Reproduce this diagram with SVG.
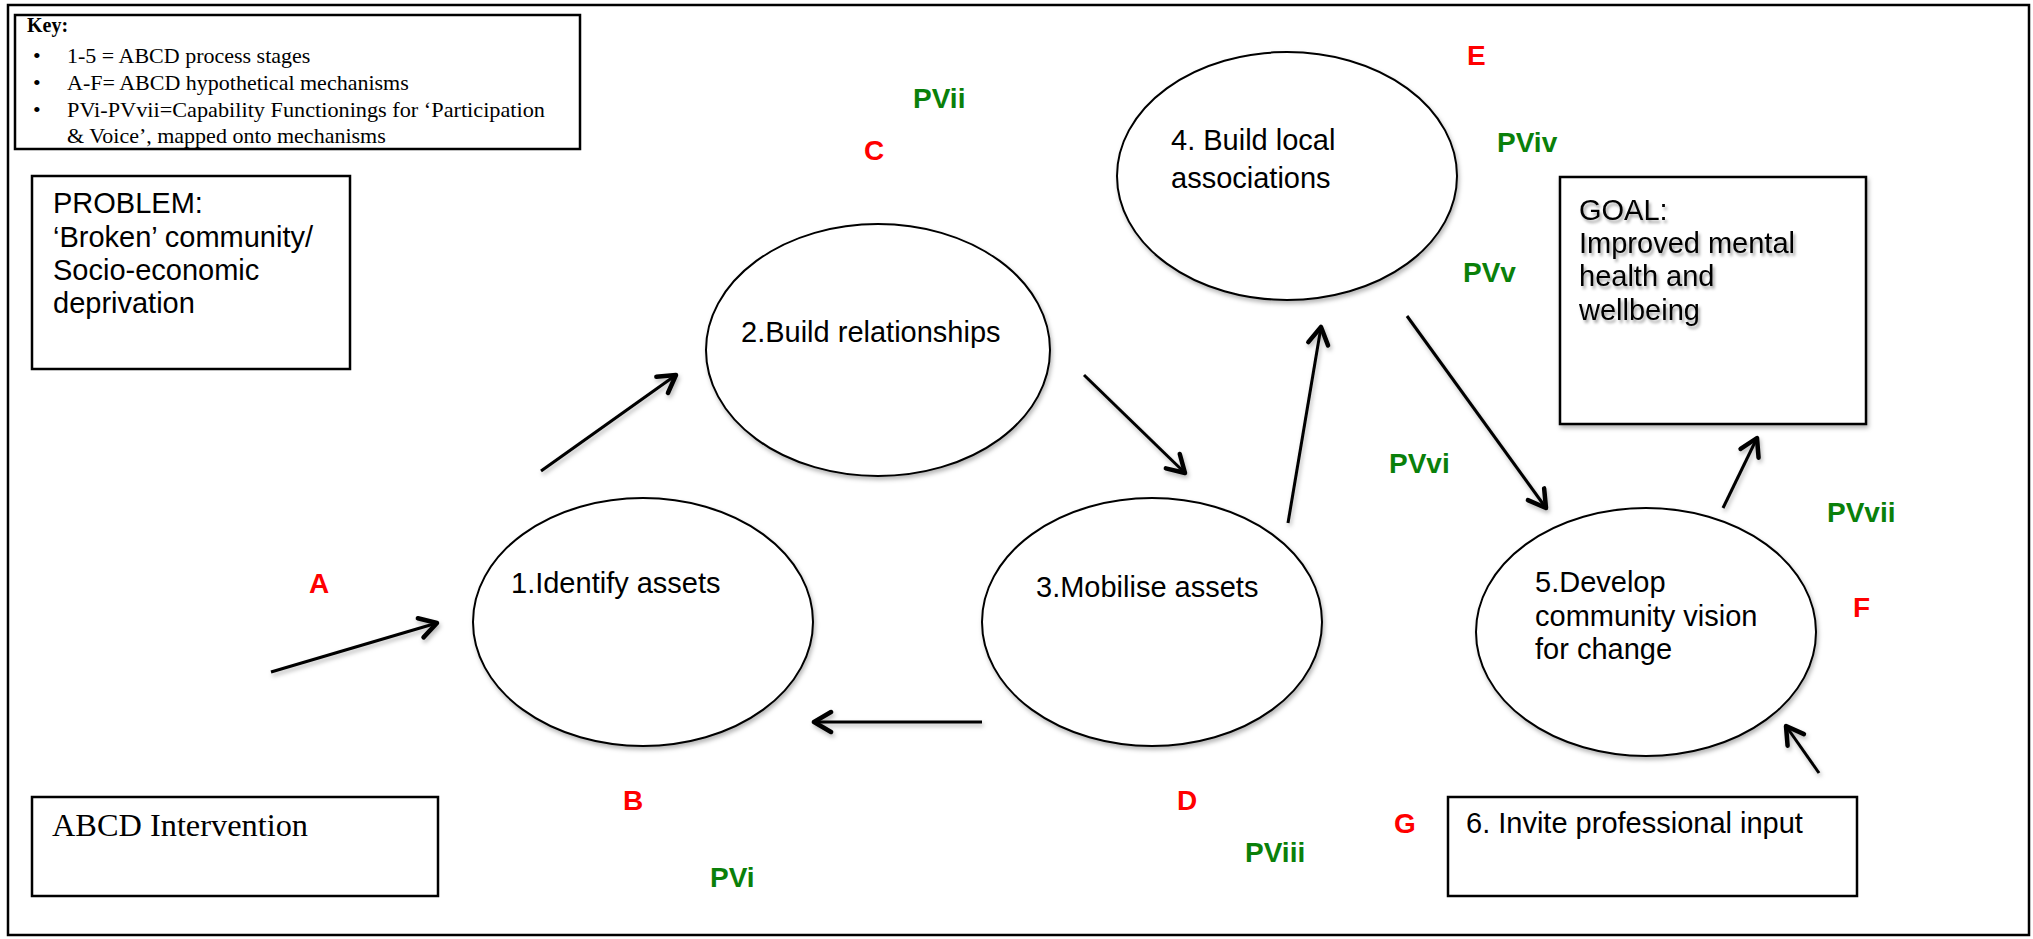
<svg xmlns="http://www.w3.org/2000/svg" width="2033" height="939" viewBox="0 0 2033 939">
<style>
.sans{font-family:"Liberation Sans",Arial,sans-serif;font-size:29px;fill:#000}
.serif{font-family:"Liberation Serif","Times New Roman",serif;fill:#000}
.red{font-family:"Liberation Sans",Arial,sans-serif;font-size:28px;font-weight:bold;fill:#ff0000}
.green{font-family:"Liberation Sans",Arial,sans-serif;font-size:28px;font-weight:bold;fill:#0a800a}
.box{fill:#fff;stroke:#000;stroke-width:2.5}
.ell{fill:#fff;stroke:#000;stroke-width:2}
.conn{stroke:#000;stroke-width:3;fill:none;marker-end:url(#ah)}
</style>
<defs>
<filter id="sh" x="-10%" y="-10%" width="130%" height="130%">
<feDropShadow dx="1.5" dy="3" stdDeviation="2" flood-color="#000" flood-opacity="0.28"/>
</filter>
<filter id="tsh" x="-10%" y="-20%" width="130%" height="150%">
<feDropShadow dx="2" dy="3" stdDeviation="1.5" flood-color="#000" flood-opacity="0.35"/>
</filter>
<marker id="ah" viewBox="-21 -13 26 26" refX="0" refY="0" markerWidth="26" markerHeight="26" markerUnits="userSpaceOnUse" orient="auto">
<path d="M-17,-10 L0,0 L-17,10" fill="none" stroke="#000" stroke-width="4.5" stroke-linecap="round" stroke-linejoin="round"/>
</marker>
</defs>
<rect x="0" y="0" width="2033" height="939" fill="#fff"/>
<rect id="frame" x="8" y="5" width="2021" height="930" fill="none" stroke="#000" stroke-width="2.5"/>

<g id="key">
<rect class="box" x="15" y="15" width="565" height="134" stroke-width="1.5"/>
<text class="serif" x="27" y="32" font-size="20" font-weight="bold">Key:</text>
<g class="serif" font-size="22">
<text x="33" y="63">•</text><text x="67" y="63">1-5 = ABCD process stages</text>
<text x="33" y="90">•</text><text x="67" y="90">A-F= ABCD hypothetical mechanisms</text>
<text x="33" y="117">•</text><text x="67" y="117" textLength="478" lengthAdjust="spacingAndGlyphs">PVi-PVvii=Capability Functionings for ‘Participation</text>
<text x="67" y="143">&amp; Voice’, mapped onto mechanisms</text>
</g>
</g>

<g id="problem">
<rect class="box" x="32" y="176" width="318" height="193"/>
<text class="sans" x="53" y="213">PROBLEM:</text>
<text class="sans" x="53" y="247">‘Broken’ community/</text>
<text class="sans" x="53" y="280">Socio-economic</text>
<text class="sans" x="53" y="313">deprivation</text>
</g>

<g id="intervention">
<rect class="box" x="32" y="797" width="406" height="99"/>
<text class="serif" x="52" y="836" font-size="31" textLength="256" lengthAdjust="spacingAndGlyphs">ABCD Intervention</text>
</g>

<g id="goal">
<rect class="box" x="1560" y="177" width="306" height="247" filter="url(#sh)"/>
<g filter="url(#tsh)">
<text class="sans" x="1579" y="220">GOAL:</text>
<text class="sans" x="1579" y="253">Improved mental</text>
<text class="sans" x="1579" y="286">health and</text>
<text class="sans" x="1579" y="320">wellbeing</text>
</g>
</g>

<g id="professional">
<rect class="box" x="1448" y="797" width="409" height="99"/>
<text class="sans" x="1466" y="833">6. Invite professional input</text>
</g>

<g id="stage1">
<ellipse class="ell" cx="643" cy="622" rx="170" ry="124" filter="url(#sh)"/>
<text class="sans" x="511" y="593">1.Identify assets</text>
</g>
<g id="stage2">
<ellipse class="ell" cx="878" cy="350" rx="172" ry="126" filter="url(#sh)"/>
<text class="sans" x="741" y="342">2.Build relationships</text>
</g>
<g id="stage3">
<ellipse class="ell" cx="1152" cy="622" rx="170" ry="124" filter="url(#sh)"/>
<text class="sans" x="1036" y="597">3.Mobilise assets</text>
</g>
<g id="stage4">
<ellipse class="ell" cx="1287" cy="176" rx="170" ry="124" filter="url(#sh)"/>
<text class="sans" x="1171" y="150">4. Build local</text>
<text class="sans" x="1171" y="188">associations</text>
</g>
<g id="stage5">
<ellipse class="ell" cx="1646" cy="632" rx="170" ry="124" filter="url(#sh)"/>
<text class="sans" x="1535" y="592">5.Develop</text>
<text class="sans" x="1535" y="626">community vision</text>
<text class="sans" x="1535" y="659">for change</text>
</g>

<g id="connectors" filter="url(#sh)">
<line class="conn" x1="271" y1="672" x2="437" y2="623"/>
<line class="conn" x1="541" y1="471" x2="676" y2="375"/>
<line class="conn" x1="1084" y1="375" x2="1185" y2="473"/>
<line class="conn" x1="982" y1="722" x2="814" y2="722" stroke-width="4"/>
<line class="conn" x1="1288" y1="523" x2="1321" y2="327"/>
<line class="conn" x1="1407" y1="316" x2="1546" y2="508"/>
<line class="conn" x1="1723" y1="508" x2="1757" y2="438"/>
<line class="conn" x1="1819" y1="773" x2="1786" y2="726"/>
</g>

<g id="mechanisms">
<text class="red" x="309" y="593">A</text>
<text class="red" x="623" y="810">B</text>
<text class="red" x="864" y="160">C</text>
<text class="red" x="1177" y="810">D</text>
<text class="red" x="1467" y="65">E</text>
<text class="red" x="1853" y="617">F</text>
<text class="red" x="1394" y="833">G</text>
</g>

<g id="functionings">
<text class="green" x="710" y="887">PVi</text>
<text class="green" x="913" y="108">PVii</text>
<text class="green" x="1245" y="862">PViii</text>
<text class="green" x="1497" y="152">PViv</text>
<text class="green" x="1463" y="282">PVv</text>
<text class="green" x="1389" y="473">PVvi</text>
<text class="green" x="1827" y="522">PVvii</text>
</g>
</svg>
